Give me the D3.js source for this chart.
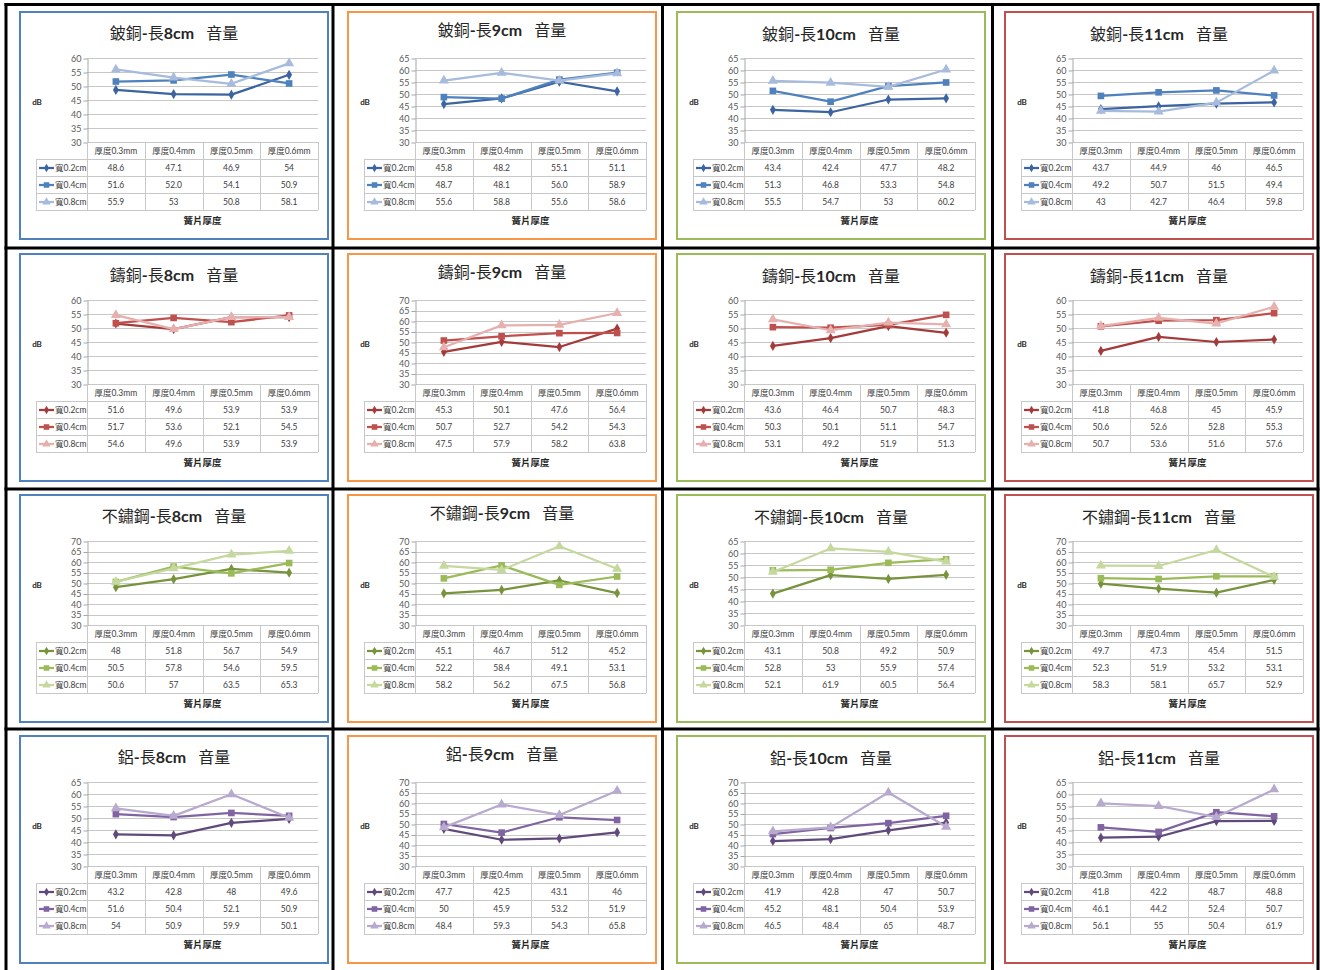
<!DOCTYPE html>
<html>
<head>
<meta charset="utf-8">
<script src="https://cdn.jsdelivr.net/npm/d3@7"></script>
<style>
  html, body { margin: 0; padding: 0; background: #fff; }
  svg { display: block; }
  .cjk { font-family: "Lato", "Noto Sans CJK TC", sans-serif; }
</style>
</head>
<body>
<svg id="chart" width="1320" height="970"></svg>
<script>
// Reed sound volume (dB) by material, reed length, reed thickness and reed width
const materials = ["鈹銅", "鑄銅", "不鏽鋼", "鋁"];
const lengths = ["長8cm", "長9cm", "長10cm", "長11cm"];
const thicknessLabels = ["厚度0.3mm", "厚度0.4mm", "厚度0.5mm", "厚度0.6mm"];
const widthLabels = ["寬0.2cm", "寬0.4cm", "寬0.8cm"];
const yTitle = "dB";
const xTitle = "簧片厚度";
const titleSuffix = "音量";

// y-axis maximum of each panel [material][length]; every axis starts at 30
const yMin = 30;
const yMax = [
  [60, 65, 65, 65],
  [60, 70, 60, 60],
  [70, 70, 65, 70],
  [65, 70, 70, 65]
];

// values as printed in each data table: [length][width][thickness]
const berylliumCopper = [
  [["48.6", "47.1", "46.9", "54"], ["51.6", "52.0", "54.1", "50.9"], ["55.9", "53", "50.8", "58.1"]],
  [["45.8", "48.2", "55.1", "51.1"], ["48.7", "48.1", "56.0", "58.9"], ["55.6", "58.8", "55.6", "58.6"]],
  [["43.4", "42.4", "47.7", "48.2"], ["51.3", "46.8", "53.3", "54.8"], ["55.5", "54.7", "53", "60.2"]],
  [["43.7", "44.9", "46", "46.5"], ["49.2", "50.7", "51.5", "49.4"], ["43", "42.7", "46.4", "59.8"]]
];
const castCopper = [
  [["51.6", "49.6", "53.9", "53.9"], ["51.7", "53.6", "52.1", "54.5"], ["54.6", "49.6", "53.9", "53.9"]],
  [["45.3", "50.1", "47.6", "56.4"], ["50.7", "52.7", "54.2", "54.3"], ["47.5", "57.9", "58.2", "63.8"]],
  [["43.6", "46.4", "50.7", "48.3"], ["50.3", "50.1", "51.1", "54.7"], ["53.1", "49.2", "51.9", "51.3"]],
  [["41.8", "46.8", "45", "45.9"], ["50.6", "52.6", "52.8", "55.3"], ["50.7", "53.6", "51.6", "57.6"]]
];
const stainlessSteel = [
  [["48", "51.8", "56.7", "54.9"], ["50.5", "57.8", "54.6", "59.5"], ["50.6", "57", "63.5", "65.3"]],
  [["45.1", "46.7", "51.2", "45.2"], ["52.2", "58.4", "49.1", "53.1"], ["58.2", "56.2", "67.5", "56.8"]],
  [["43.1", "50.8", "49.2", "50.9"], ["52.8", "53", "55.9", "57.4"], ["52.1", "61.9", "60.5", "56.4"]],
  [["49.7", "47.3", "45.4", "51.5"], ["52.3", "51.9", "53.2", "53.1"], ["58.3", "58.1", "65.7", "52.9"]]
];
const aluminium = [
  [["43.2", "42.8", "48", "49.6"], ["51.6", "50.4", "52.1", "50.9"], ["54", "50.9", "59.9", "50.1"]],
  [["47.7", "42.5", "43.1", "46"], ["50", "45.9", "53.2", "51.9"], ["48.4", "59.3", "54.3", "65.8"]],
  [["41.9", "42.8", "47", "50.7"], ["45.2", "48.1", "50.4", "53.9"], ["46.5", "48.4", "65", "48.7"]],
  [["41.8", "42.2", "48.7", "48.8"], ["46.1", "44.2", "52.4", "50.7"], ["56.1", "55", "50.4", "61.9"]]
];
const materialValues = [berylliumCopper, castCopper, stainlessSteel, aluminium];

// series colours per material (dark, base, light) and frame colour per length
const seriesColors = [
  ["#3B64A0", "#4F81BD", "#A7BBDD"],
  ["#A33B3A", "#C0504D", "#E5B0AE"],
  ["#77933C", "#9BBB59", "#C5D89E"],
  ["#604A7B", "#8064A2", "#B8A9CE"]
];
const frameColors = ["#4F81BD", "#F79646", "#9BBB59", "#C0504D"];
const markerTypes = [d3.symbolDiamond, d3.symbolSquare, d3.symbolTriangle];
const markerSizes = [30, 44, 44];

const svg = d3.select("#chart");
svg.append("rect").attr("width", 1320).attr("height", 970).attr("fill", "#fff");

// panel layout
const frameX = [20, 348, 677, 1005];
const frameY = [12, 254, 495, 736];
const frameW = 308, frameH = 227;
const titleOffset = [20, 17, 21, 21];
const rowH = 17;
const gridColor = "#C8C8C8";
const textFont = "'Lato', 'Noto Sans CJK TC', sans-serif";

materials.forEach((mat, r) => {
  lengths.forEach((len, c) => {
    const fx = frameX[c], fy = frameY[r];
    const g = svg.append("g");
    const values = materialValues[r][c];

    // coloured chart frame
    g.append("rect")
      .attr("x", fx).attr("y", fy).attr("width", frameW).attr("height", frameH)
      .attr("fill", "#fff").attr("stroke", frameColors[c]).attr("stroke-width", 2);

    // title: CJK regular, Latin parts bold
    const title = g.append("text")
      .attr("x", fx + frameW / 2).attr("y", fy + titleOffset[c])
      .attr("text-anchor", "middle").attr("dominant-baseline", "central")
      .attr("font-family", textFont).attr("font-size", 16).attr("fill", "#262626");
    const m = len.match(/^(長)(.*)$/);
    title.append("tspan").text(mat);
    title.append("tspan").attr("font-weight", "bold").text("-");
    title.append("tspan").text(m[1]);
    title.append("tspan").attr("font-weight", "bold").text(m[2]);
    title.append("tspan").attr("xml:space", "preserve").text("\u2002 " + titleSuffix);

    const plotL = fx + 67, plotR = fx + 298, plotT = fy + 46, plotB = fy + 130;

    const x = d3.scalePoint().domain(thicknessLabels).range([plotL, plotR]).padding(0.5);
    const y = d3.scaleLinear().domain([yMin, yMax[r][c]]).range([plotB, plotT]);
    const ticks = d3.range(yMin, yMax[r][c] + 0.1, 5);

    // horizontal gridlines
    g.append("g").selectAll("line").data(ticks).join("line")
      .attr("x1", plotL).attr("x2", plotR)
      .attr("y1", d => Math.round(y(d)) + 0.5).attr("y2", d => Math.round(y(d)) + 0.5)
      .attr("stroke", gridColor).attr("stroke-width", 1);

    // y axis
    const axis = g.append("g")
      .attr("transform", `translate(${plotL + 0.5},0.5)`)
      .call(d3.axisLeft(y).tickValues(ticks).tickSize(4).tickSizeOuter(0).tickPadding(2));
    axis.select(".domain").attr("stroke", "#A6A6A6");
    axis.selectAll(".tick line").attr("stroke", "#A6A6A6");
    axis.selectAll(".tick text")
      .attr("font-family", textFont).attr("font-size", 9).attr("fill", "#595959");

    // y axis title
    g.append("text")
      .attr("x", fx + 17).attr("y", fy + 90)
      .attr("text-anchor", "middle").attr("dominant-baseline", "central")
      .attr("font-family", textFont).attr("font-size", 8).attr("font-weight", "bold")
      .attr("fill", "#262626").text(yTitle);

    // data table
    const legendL = fx + 16;
    const bw = (plotR - plotL) / thicknessLabels.length;
    const tbl = g.append("g").attr("stroke", gridColor).attr("stroke-width", 1).attr("fill", "none");
    // horizontal rules
    for (let i = 1; i <= widthLabels.length + 1; i++) {
      const yy = Math.round(plotB + i * rowH) + 0.5;
      tbl.append("line").attr("x1", legendL).attr("x2", plotR).attr("y1", yy).attr("y2", yy);
    }
    // vertical rules
    d3.range(thicknessLabels.length + 1).forEach(i => {
      const xx = Math.round(plotL + i * bw) + 0.5;
      tbl.append("line").attr("x1", xx).attr("x2", xx)
        .attr("y1", plotB).attr("y2", plotB + (widthLabels.length + 1) * rowH);
    });
    tbl.append("line")
      .attr("x1", legendL + 0.5).attr("x2", legendL + 0.5)
      .attr("y1", plotB + rowH).attr("y2", plotB + (widthLabels.length + 1) * rowH);

    // header row
    g.append("g").selectAll("text").data(thicknessLabels).join("text")
      .attr("x", d => x(d)).attr("y", plotB + rowH / 2 + 0.5)
      .attr("text-anchor", "middle").attr("dominant-baseline", "central")
      .attr("font-family", textFont).attr("font-size", 8.5).attr("fill", "#404040")
      .text(d => d);

    // value rows and legend keys
    widthLabels.forEach((wl, s) => {
      const cy = plotB + rowH * (s + 1) + rowH / 2 + 0.5;
      const col = seriesColors[r][s];
      g.append("line")
        .attr("x1", legendL + 3).attr("x2", legendL + 18)
        .attr("y1", cy).attr("y2", cy)
        .attr("stroke", col).attr("stroke-width", 2.25);
      g.append("path")
        .attr("d", d3.symbol(markerTypes[s], markerSizes[s] * 0.7)())
        .attr("transform", `translate(${legendL + 10.5},${cy})`)
        .attr("fill", col);
      g.append("text")
        .attr("x", legendL + 19).attr("y", cy)
        .attr("dominant-baseline", "central")
        .attr("font-family", textFont).attr("font-size", 8.5).attr("fill", "#404040")
        .text(wl);
      g.append("g").selectAll("text").data(values[s]).join("text")
        .attr("x", (d, i) => x(thicknessLabels[i])).attr("y", cy)
        .attr("text-anchor", "middle").attr("dominant-baseline", "central")
        .attr("font-family", textFont).attr("font-size", 8.5).attr("fill", "#404040")
        .text(d => d);
    });

    // x axis title
    g.append("text")
      .attr("x", (plotL + plotR) / 2).attr("y", fy + 208)
      .attr("text-anchor", "middle").attr("dominant-baseline", "central")
      .attr("font-family", textFont).attr("font-size", 9.5).attr("font-weight", "bold")
      .attr("fill", "#262626").text(xTitle);

    // series lines and markers
    const line = d3.line().x((d, i) => x(thicknessLabels[i])).y(d => y(+d));
    widthLabels.forEach((wl, s) => {
      const col = seriesColors[r][s];
      g.append("path")
        .datum(values[s])
        .attr("d", line)
        .attr("fill", "none").attr("stroke", col).attr("stroke-width", 2.25)
        .attr("stroke-linejoin", "round");
      g.append("g").selectAll("path").data(values[s]).join("path")
        .attr("d", d3.symbol(markerTypes[s], markerSizes[s])())
        .attr("transform", (d, i) => `translate(${x(thicknessLabels[i])},${y(+d)})`)
        .attr("fill", col);
    });
  });
});

// black outer table grid around the panels
const gridXs = [6, 333, 662.5, 992.5, 1318];
const gridYs = [4.5, 248, 489, 729];
const outer = svg.append("g").attr("stroke", "#000").attr("stroke-width", 3);
gridXs.forEach(xx => outer.append("line").attr("x1", xx).attr("x2", xx).attr("y1", 3).attr("y2", 970));
gridYs.forEach(yy => outer.append("line").attr("x1", 4.5).attr("x2", 1319.5).attr("y1", yy).attr("y2", yy));
</script>
</body>
</html>
